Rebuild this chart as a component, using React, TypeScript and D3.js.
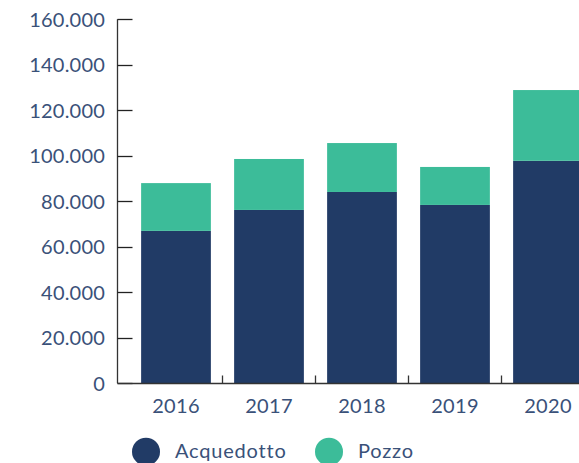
import React from "react";
import * as d3 from "d3";

const years = ["2016", "2017", "2018", "2019", "2020"];
const acquedotto = [67000, 76200, 84100, 78400, 97800];
const pozzo = [21000, 22400, 21500, 16700, 31100];
const yTicks = [0, 20000, 40000, 60000, 80000, 100000, 120000, 140000, 160000];
const seriesNames = ["Acquedotto", "Pozzo"];
const colors = ["#213b66", "#3cbc99"];

const W = 579;
const H = 463;
const axisX = 117.5;
const y = d3.scaleLinear().domain([0, 160000]).range([383.3, 19.3]);
const x = d3
  .scaleBand<string>()
  .domain(years)
  .range([129.5, 594.5])
  .paddingInner(0.25)
  .paddingOuter(0.125);

const fmt = (v: number) =>
  v === 0 ? "0" : d3.format(",")(v).replace(/,/g, ".");

const font = "Lato, 'Open Sans', sans-serif";
const textColor = "#3a5179";

export default function App() {
  const step = x.step();
  const bw = x.bandwidth();
  const boundaries = years.slice(1).map((yr) => (x(yr) as number) - (step * 0.25) / 2);
  return (
    <svg
      width={W}
      height={H}
      style={{ position: "absolute", left: 0, top: 0, overflow: "hidden" }}
    >
      {years.map((yr, i) => {
        const x0 = x(yr) as number;
        const a = acquedotto[i];
        const p = pozzo[i];
        return (
          <g key={yr}>
            <rect x={x0} y={y(a)} width={bw} height={y(0) - y(a)} fill={colors[0]} />
            <rect x={x0} y={y(a + p)} width={bw} height={y(a) - y(a + p)} fill={colors[1]} />
          </g>
        );
      })}
      {/* y axis */}
      <line x1={axisX} x2={axisX} y1={y(160000)} y2={y(0)} stroke="#333" strokeWidth={1.3} />
      {yTicks.map((t) => (
        <g key={t}>
          <line x1={axisX} x2={axisX + 15} y1={Math.round(y(t)) + 0.5} y2={Math.round(y(t)) + 0.5} stroke="#222" strokeWidth={1.3} />
          <text
            x={105}
            y={y(t)}
            dy="0.36em"
            textAnchor="end"
            fontFamily={font}
            fontSize={20}
            fill={textColor}
            letterSpacing={0.2}
          >
            {fmt(t)}
          </text>
        </g>
      ))}
      {/* x axis */}
      <line x1={axisX} x2={W + 20} y1={383.5} y2={383.5} stroke="#333" strokeWidth={1.3} />
      {boundaries.map((b, i) => (
        <line key={i} x1={b} x2={b} y1={383.5} y2={375.5} stroke="#333" strokeWidth={1.3} />
      ))}
      {years.map((yr) => (
        <text
          key={yr}
          x={(x(yr) as number) + bw / 2}
          y={412.5}
          textAnchor="middle"
          fontFamily={font}
          fontSize={20}
          fill={textColor}
          letterSpacing={0.3}
        >
          {yr}
        </text>
      ))}
      {/* legend */}
      {seriesNames.map((s, i) => {
        const cx = [146, 329][i];
        return (
          <g key={s}>
            <circle cx={cx} cy={451.7} r={14} fill={colors[i]} />
            <text x={cx + 29} y={457.5} fontFamily={font} fontSize={20} fill={textColor} letterSpacing={0.8}>
              {s}
            </text>
          </g>
        );
      })}
    </svg>
  );
}
